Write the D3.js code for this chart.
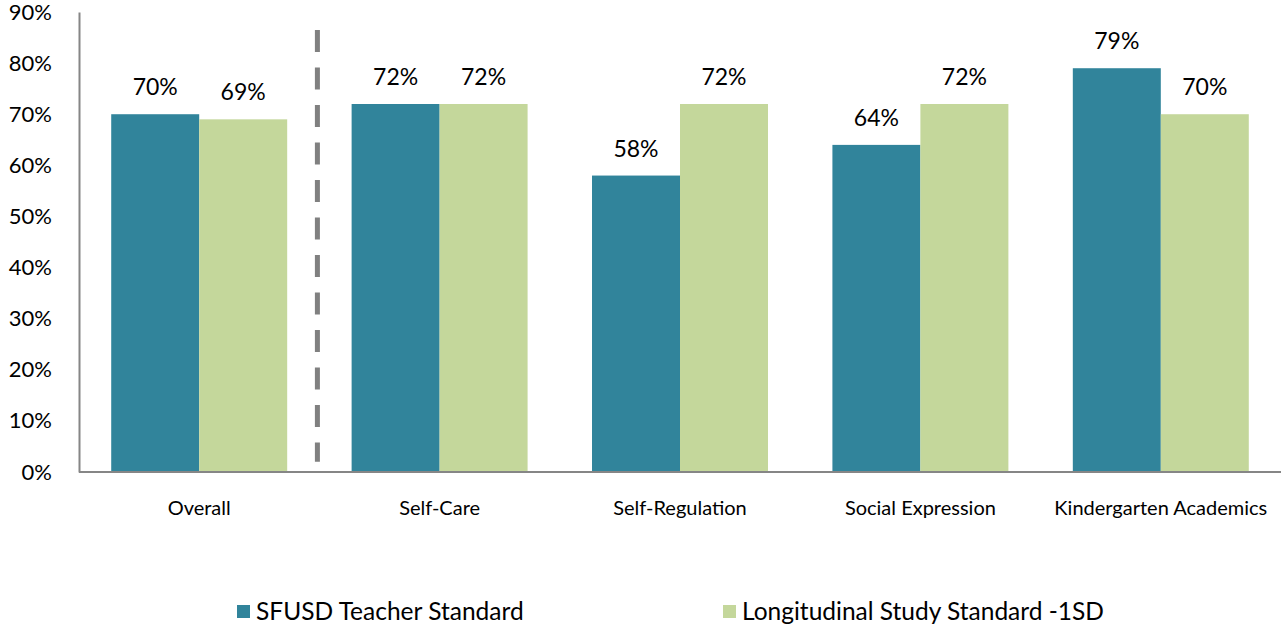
<!DOCTYPE html>
<html><head><meta charset="utf-8">
<script src="https://cdn.jsdelivr.net/npm/d3@7"></script>
<style>body{margin:0;background:#fff;} svg{display:block;}</style>
</head><body>
<svg id="chart" width="1281" height="628"></svg>
<script>
const categories = ["Overall","Self-Care","Self-Regulation","Social Expression","Kindergarten Academics"];
const seriesNames = ["SFUSD Teacher Standard","Longitudinal Study Standard -1SD"];
const sfusd = [0.70,0.72,0.58,0.64,0.79];
const longitudinal = [0.69,0.72,0.72,0.72,0.70];
const yTicks = [0,0.1,0.2,0.3,0.4,0.5,0.6,0.7,0.8,0.9];
const colors = ["#31849B","#C4D79B"];
const font = "Lato, 'Open Sans', sans-serif";

const svg = d3.select("#chart");
const mLeft = 79, mRight = 1281, mTop = 12, mBottom = 472;
const x = d3.scaleBand().domain(categories).range([mLeft,mRight]).paddingInner(0.268).paddingOuter(0.134);
const xs = d3.scaleBand().domain([0,1]).range([0,x.bandwidth()]);
const y = d3.scaleLinear().domain([0,0.9]).range([mBottom,mTop]);
const fmt = d3.format(".0%");

const data = categories.map((c,i)=>({cat:c, vals:[sfusd[i], longitudinal[i]]}));

const g = svg.append("g");
g.selectAll("g.grp").data(data).join("g").attr("class","grp")
 .attr("transform",d=>`translate(${x(d.cat)},0)`)
 .each(function(d){
   const gg = d3.select(this);
   gg.selectAll("rect").data(d.vals).join("rect")
     .attr("x",(v,j)=>xs(j)).attr("width",xs.bandwidth())
     .attr("y",v=>y(v)).attr("height",v=>mBottom-y(v))
     .attr("fill",(v,j)=>colors[j]);
   gg.selectAll("text").data(d.vals).join("text")
     .attr("x",(v,j)=>xs(j)+xs.bandwidth()/2).attr("y",v=>y(v)-19)
     .attr("text-anchor","middle").attr("font-family",font).attr("font-size",23)
     .attr("fill","#000").text(v=>fmt(v));
 });

// y axis
const yAxis = d3.axisLeft(y).tickValues(yTicks).tickFormat(fmt).tickSize(0).tickPadding(27);
const ya = svg.append("g").attr("transform",`translate(${mLeft},0)`).call(yAxis);
ya.select(".domain").attr("stroke","#868686").attr("stroke-width",2);
ya.selectAll("text").attr("font-family",font).attr("font-size",22).attr("fill","#000");

// x axis
const xAxis = d3.axisBottom(x).tickSize(0).tickPadding(29);
const xa = svg.append("g").attr("transform",`translate(0,${mBottom})`).call(xAxis);
xa.select(".domain").attr("stroke","#868686").attr("stroke-width",2).attr("d",`M${mLeft},0H${mRight}`);
xa.selectAll("text").attr("font-family",font).attr("font-size",20).attr("fill","#000");

// dashed separator between Overall and the rest
const sepX = (x(categories[0]) + x.bandwidth() + x(categories[1]))/2;
svg.append("line").attr("x1",sepX-2).attr("x2",sepX-2)
  .attr("y1",30).attr("y2",y(0.02))
  .attr("stroke","#808080").attr("stroke-width",5).attr("stroke-dasharray","22 15.5");

// legend
const legendX = [237, 723];
const lg = svg.append("g");
seriesNames.forEach((s,i)=>{
  lg.append("rect").attr("x",legendX[i]).attr("y",605).attr("width",13).attr("height",13).attr("fill",colors[i]);
  lg.append("text").attr("x",legendX[i]+19).attr("y",620).attr("font-family",font).attr("font-size",24.5).attr("fill","#000").text(s);
});
</script>
</body></html>
